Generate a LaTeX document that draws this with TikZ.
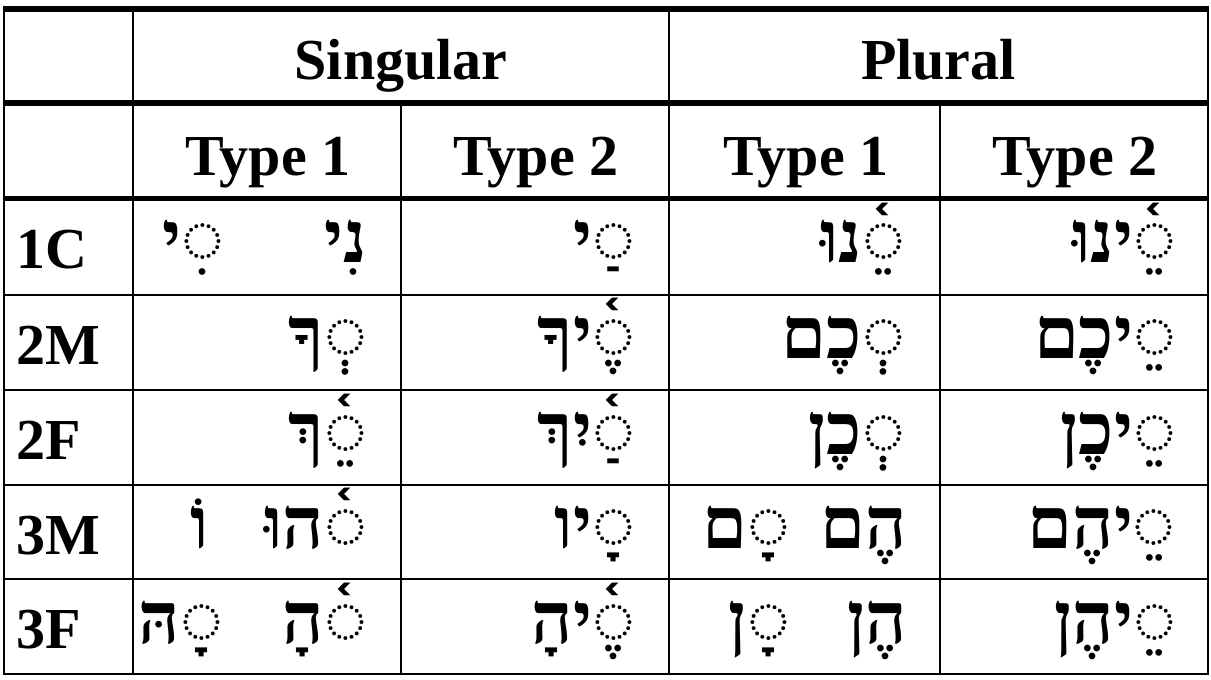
\documentclass[tikz,border=0pt]{standalone}
\usepackage{fontspec}
\setmainfont{Liberation Serif}
\newfontfamily\hebfont[Script=Hebrew]{Liberation Serif}
\TeXXeTstate=1
\begin{document}
\begin{tikzpicture}[x=1pt,y=-1pt,
  thickrule/.style={line width=5.5pt},
  thinrule/.style={line width=2pt},
  vrule/.style={line width=2.5pt},
  lat/.style={font=\bfseries\fontsize{58}{60}\selectfont, inner sep=0pt},
  heb/.style={font=\hebfont\bfseries\fontsize{72}{74}\selectfont, inner sep=0pt, anchor=base east}]
\useasboundingbox (0,0) rectangle (1211,680);
\fill[white] (0,0) rectangle (1211,680);
% horizontal rules
\draw[thickrule] (2.75,9) -- (1209.25,9);
\draw[thickrule] (2.75,103) -- (1209.25,103);
\draw[thickrule] (2.75,198.5) -- (1209.25,198.5);
\foreach \y in {295,390,485,579,674}
  \draw[thinrule] (2.75,\y) -- (1209.25,\y);
% vertical rules
\foreach \x in {4,133,669,1208}
  \draw[vrule] (\x,9) -- (\x,675);
\foreach \x in {401,940}
  \draw[vrule] (\x,103) -- (\x,675);
% headers
\node[lat, anchor=base] (hs) at (401,79) {Singular};
\node[lat, anchor=base] (hp) at (938.5,79) {Plural};
\node[lat, anchor=base] (t1) at (268,175) {Type 1};
\node[lat, anchor=base] (t2) at (536,175) {Type 2};
\node[lat, anchor=base] (t3) at (806,175) {Type 1};
\node[lat, anchor=base] (t4) at (1075,175) {Type 2};
% row labels
\node[lat, anchor=base west] (r1) at (16,268) {1C};
\node[lat, anchor=base west] (r2) at (16,364) {2M};
\node[lat, anchor=base west] (r3) at (16,459) {2F};
\node[lat, anchor=base west] (r4) at (16,554) {3M};
\node[lat, anchor=base west] (r5) at (16,648) {3F};
% 1C
\node[heb] (a1) at (367,262.5) {\beginR נִי\endR};
\node[heb] (a1b) at (224,262.5) {\beginR ◌ִי\endR};
\node[heb] (b1) at (635,262.5) {\beginR ◌ַי\endR};
\node[heb] (c1) at (905,262.5) {\beginR ◌ֵ֫נוּ\endR};
\node[heb] (d1) at (1176,262.5) {\beginR ◌ֵ֫ינוּ\endR};
% 2M
\node[heb] (a2) at (367,358) {\beginR ◌ְךָ\endR};
\node[heb] (b2) at (635,358) {\beginR ◌ֶ֫יךָ\endR};
\node[heb] (c2) at (905,358) {\beginR ◌ְכֶם\endR};
\node[heb] (d2) at (1176,358) {\beginR ◌ֵיכֶם\endR};
% 2F
\node[heb] (a3) at (367,454) {\beginR ◌ֵ֫ךְ\endR};
\node[heb] (b3) at (635,454) {\beginR ◌ַ֫יִךְ\endR};
\node[heb] (c3) at (905,454) {\beginR ◌ְכֶן\endR};
\node[heb] (d3) at (1176,454) {\beginR ◌ֵיכֶן\endR};
% 3M
\node[heb] (a4) at (367,548) {\beginR ◌֫הוּ\endR};
\node[heb] (a4b) at (209,548) {\beginR וֹ\endR};
\node[heb] (b4) at (635,548) {\beginR ◌ָיו\endR};
\node[heb] (c4) at (907,548) {\beginR הֶם\endR};
\node[heb] (c4b) at (790,548) {\beginR ◌ָם\endR};
\node[heb] (d4) at (1176,548) {\beginR ◌ֵיהֶם\endR};
% 3F
\node[heb] (a5) at (367,643) {\beginR ◌֫הָ\endR};
\node[heb] (a5b) at (223,643) {\beginR ◌ָהּ\endR};
\node[heb] (b5) at (635,643) {\beginR ◌ֶ֫יהָ\endR};
\node[heb] (c5) at (907,643) {\beginR הֶן\endR};
\node[heb] (c5b) at (790,643) {\beginR ◌ָן\endR};
\node[heb] (d5) at (1176,643) {\beginR ◌ֵיהֶן\endR};
\end{tikzpicture}
\end{document}
